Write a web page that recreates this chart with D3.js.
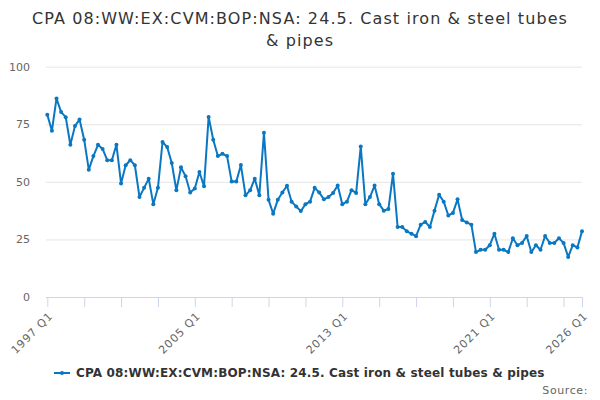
<!DOCTYPE html>
<html>
<head>
<meta charset="utf-8">
<script src="https://cdn.jsdelivr.net/npm/d3@7"></script>
<style>
  body { margin: 0; background: #fff; }
  svg { display: block; font-family: "DejaVu Sans", sans-serif; }
</style>
</head>
<body>
<div id="chart"></div>
<script>
// Quarterly series, 1997 Q1 .. 2026 Q1
const startYear = 1997;
const values = [
    79.1, 72.2, 86.2, 80.3, 78.1, 66.1, 74.2, 77.1, 68.3, 55.3,
    61.2, 66.1, 64.3, 59.4, 59.4, 66.1, 49.3, 57.2, 59.4, 57.2,
    43.4, 47.4, 51.4, 40.3, 47.4, 67.3, 65.1, 58.2, 46.3, 56.3,
    52.4, 45.4, 47.1, 54.3, 48.1, 78.2, 68.3, 61.2,
    62.2, 61.2, 50.1, 50.1, 57.3, 44.2, 46.3, 51.4, 44.2, 71.3,
    42.2, 36.2, 42.2, 45.4, 48.3, 41.4, 39.3, 37.3, 40.3, 41.4,
    47.4, 45.4, 42.4, 43.4, 45.2, 48.4, 40.3, 41.4, 46.4, 45.2,
    65.3, 40.3, 43.4, 48.4, 40.3,
    37.5, 38.2, 53.5, 30.4, 30.4, 28.5, 27.5, 26.4, 31.4, 32.6,
    30.4, 37.5, 44.4, 41.4, 35.4, 36.5, 42.4, 33.4, 32.4, 31.4,
    19.5, 20.5, 20.5, 22.5, 27.5, 20.5, 20.5, 19.5, 25.5, 22.5,
    23.5, 26.5, 19.5, 22.5, 20.5, 26.5, 23.5, 23.5, 25.5, 23.5,
    17.4, 22.5, 21.5, 28.5
];
const categories = values.map((v, i) => `${startYear + Math.floor(i / 4)} Q${i % 4 + 1}`);
const tickLabels = ["1997 Q1", "2005 Q1", "2013 Q1", "2021 Q1", "2026 Q1"];
const yTicks = [0, 25, 50, 75, 100];

const titleLines = ["CPA 08:WW:EX:CVM:BOP:NSA: 24.5. Cast iron & steel tubes", "& pipes"];
const seriesName = "CPA 08:WW:EX:CVM:BOP:NSA: 24.5. Cast iron & steel tubes & pipes";

const width = 600, height = 400;
const lineColor = "#0a77c2";

const svg = d3.select("#chart").append("svg")
    .attr("width", width)
    .attr("height", height);

// scales
const x = d3.scalePoint()
    .domain(categories)
    .range([47.3, 582]);

const y = d3.scaleLinear()
    .domain([0, 100])
    .range([297, 66.7]);

// title (reference glyphs run a bit wider than ours, hence the spacing)
svg.append("text")
    .attr("x", width / 2)
    .attr("y", 23.5)
    .attr("text-anchor", "middle")
    .style("font-size", "16px")
    .style("letter-spacing", "1.1px")
    .attr("fill", "#333")
    .selectAll("tspan")
    .data(titleLines)
    .join("tspan")
        .attr("x", width / 2)
        .attr("dy", (d, i) => i === 0 ? 0 : 22)
        .text(d => d);

// grid lines + y labels
const yAxis = d3.axisLeft(y)
    .tickValues(yTicks)
    .tickSize(-(582 - 46))
    .tickPadding(16);

svg.append("g")
    .attr("transform", "translate(46,0)")
    .call(yAxis)
    .call(g => g.select(".domain").remove())
    .call(g => g.selectAll(".tick line").attr("stroke", "#e6e6e6"))
    .call(g => g.selectAll(".tick text")
        .attr("fill", "#666")
        .style("font-size", "11px")
        .style("font-family", "DejaVu Sans, sans-serif"));

// x axis: ticks every 8 quarters plus the last one
const tickCats = categories.filter((c, i) => i % 8 === 0 && i < categories.length - 4);
tickCats.push(categories[categories.length - 1]);

const xAxis = d3.axisBottom(x)
    .tickValues(tickCats)
    .tickSize(10)
    .tickSizeOuter(0)
    .tickFormat(d => tickLabels.includes(d) ? d : "");

const xg = svg.append("g")
    .attr("transform", "translate(0,297)")
    .call(xAxis);

xg.select(".domain").attr("stroke", "#ccd6eb").attr("d", `M46,0.5H583`);
xg.selectAll(".tick line").attr("stroke", "#ccd6eb");
xg.selectAll(".tick text")
    .attr("fill", "#666")
    .style("font-size", "11px")
    .style("letter-spacing", "0.9px")
    .style("font-family", "DejaVu Sans, sans-serif")
    .attr("text-anchor", "end")
    .attr("transform", "translate(3,17) rotate(-45)")
    .attr("dy", "0.35em")
    .attr("y", 0)
    .attr("x", 0);

// the series
const line = d3.line()
    .x((d, i) => x(categories[i]))
    .y(d => y(d));

svg.append("path")
    .datum(values)
    .attr("fill", "none")
    .attr("stroke", lineColor)
    .attr("stroke-width", 2)
    .attr("stroke-linejoin", "round")
    .attr("d", line);

svg.append("g")
    .selectAll("circle")
    .data(values)
    .join("circle")
        .attr("cx", (d, i) => x(categories[i]))
        .attr("cy", d => y(d))
        .attr("r", 2)
        .attr("fill", lineColor);

// legend
const legend = svg.append("g").attr("transform", "translate(0,373)");
legend.append("line")
    .attr("x1", 54).attr("x2", 70)
    .attr("stroke", lineColor)
    .attr("stroke-width", 2);
legend.append("circle")
    .attr("cx", 62).attr("r", 2)
    .attr("fill", lineColor);
legend.append("text")
    .attr("x", 76)
    .attr("y", 4.3)
    .attr("fill", "#333")
    .style("font-size", "12px")
    .style("letter-spacing", "0.16px")
    .style("font-weight", "bold")
    .text(seriesName);

// credits
svg.append("text")
    .attr("x", 588)
    .attr("y", 394)
    .attr("text-anchor", "end")
    .attr("fill", "#666")
    .style("font-size", "11px")
    .style("letter-spacing", "0.6px")
    .text("Source:");
</script>
</body>
</html>
